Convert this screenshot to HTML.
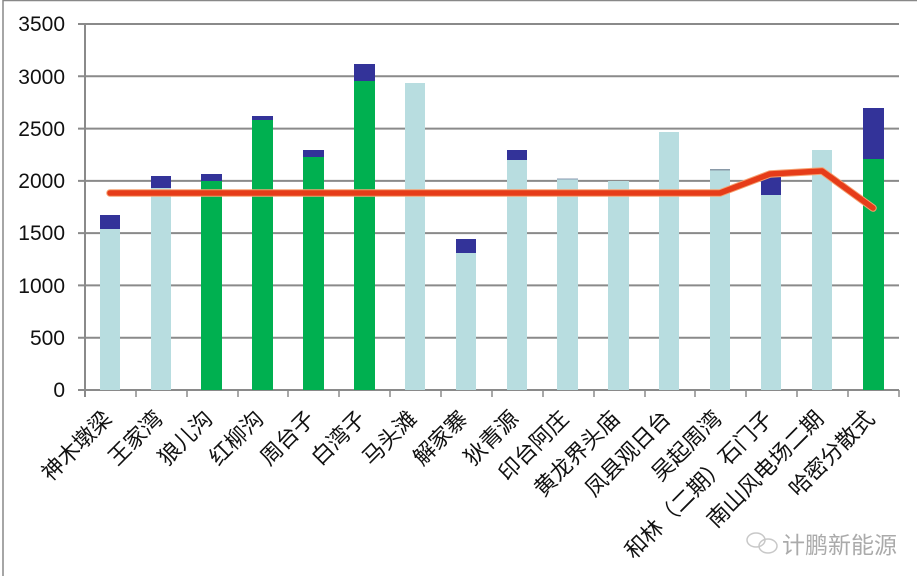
<!DOCTYPE html>
<html><head><meta charset="utf-8"><style>
html,body{margin:0;padding:0;background:#fff;}
svg{display:block;}
text{font-family:"Liberation Sans","Noto Sans CJK SC",sans-serif;}
</style></head><body>
<svg width="917" height="576" viewBox="0 0 917 576" xmlns="http://www.w3.org/2000/svg">
<rect width="917" height="576" fill="#fff"/>
<line x1="3" y1="0.5" x2="917" y2="0.5" stroke="#888" stroke-width="1.5"/>
<line x1="3" y1="0" x2="3" y2="576" stroke="#888" stroke-width="1.5"/>
<g stroke="#8a8a8a" stroke-width="2">
<line x1="78" y1="24" x2="899" y2="24"/>
<line x1="78" y1="76.3" x2="899" y2="76.3"/>
<line x1="78" y1="128.6" x2="899" y2="128.6"/>
<line x1="78" y1="180.9" x2="899" y2="180.9"/>
<line x1="78" y1="233.1" x2="899" y2="233.1"/>
<line x1="78" y1="285.4" x2="899" y2="285.4"/>
<line x1="78" y1="337.7" x2="899" y2="337.7"/>
<line x1="78" y1="390" x2="899" y2="390"/>
<line x1="85" y1="24" x2="85" y2="397"/>
</g>
<g stroke="#8a8a8a" stroke-width="1.5">
<line x1="136" y1="390" x2="136" y2="397"/><line x1="187" y1="390" x2="187" y2="397"/>
<line x1="238" y1="390" x2="238" y2="397"/><line x1="288" y1="390" x2="288" y2="397"/>
<line x1="339" y1="390" x2="339" y2="397"/><line x1="390" y1="390" x2="390" y2="397"/>
<line x1="441" y1="390" x2="441" y2="397"/><line x1="492" y1="390" x2="492" y2="397"/>
<line x1="543" y1="390" x2="543" y2="397"/><line x1="594" y1="390" x2="594" y2="397"/>
<line x1="645" y1="390" x2="645" y2="397"/><line x1="695" y1="390" x2="695" y2="397"/>
<line x1="746" y1="390" x2="746" y2="397"/><line x1="797" y1="390" x2="797" y2="397"/>
<line x1="848" y1="390" x2="848" y2="397"/><line x1="899" y1="390" x2="899" y2="397"/>
</g>
<g font-size="21" fill="#111" text-anchor="end">
<text x="65" y="31">3500</text><text x="65" y="84">3000</text><text x="65" y="136">2500</text>
<text x="65" y="188">2000</text><text x="65" y="240">1500</text><text x="65" y="293">1000</text>
<text x="65" y="345">500</text><text x="65" y="397">0</text>
</g>
<g>
<rect x="100" y="229" width="20" height="161" fill="#b8dde0"/><rect x="100" y="215" width="20" height="14" fill="#333399"/>
<rect x="151" y="188" width="20" height="202" fill="#b8dde0"/><rect x="151" y="176" width="20" height="12" fill="#333399"/>
<rect x="201" y="181" width="21" height="209" fill="#00b050"/><rect x="201" y="174" width="21" height="7" fill="#333399"/>
<rect x="252" y="120" width="21" height="270" fill="#00b050"/><rect x="252" y="116" width="21" height="4" fill="#333399"/>
<rect x="303" y="157" width="21" height="233" fill="#00b050"/><rect x="303" y="150" width="21" height="7" fill="#333399"/>
<rect x="354" y="81" width="21" height="309" fill="#00b050"/><rect x="354" y="64" width="21" height="17" fill="#333399"/>
<rect x="405" y="83" width="20" height="307" fill="#b8dde0"/>
<rect x="456" y="253" width="20" height="137" fill="#b8dde0"/><rect x="456" y="239" width="20" height="14" fill="#333399"/>
<rect x="507" y="160" width="20" height="230" fill="#b8dde0"/><rect x="507" y="150" width="20" height="10" fill="#333399"/>
<rect x="557" y="179" width="21" height="211" fill="#b8dde0"/><rect x="557" y="178.5" width="21" height="1" fill="#8a9ab0"/>
<rect x="608" y="181" width="21" height="209" fill="#b8dde0"/>
<rect x="659" y="132" width="20" height="258" fill="#b8dde0"/>
<rect x="710" y="169" width="20" height="221" fill="#b8dde0"/><rect x="710" y="169" width="20" height="1.5" fill="#8a9aa8"/>
<rect x="761" y="195" width="20" height="195" fill="#b8dde0"/><rect x="761" y="177" width="20" height="18" fill="#333399"/>
<rect x="812" y="150" width="20" height="240" fill="#b8dde0"/>
<rect x="863" y="159" width="21" height="231" fill="#00b050"/><rect x="863" y="108" width="21" height="51" fill="#333399"/>
</g>
<polyline points="110,193 720,193 770,174 822,171 873,208" fill="none" stroke="#f5a070" stroke-width="7.5" stroke-linejoin="round" stroke-linecap="round"/>
<polyline points="110,193 720,193 770,174 822,171 873,208" fill="none" stroke="#e63c19" stroke-width="5.5" stroke-linejoin="round" stroke-linecap="round"/>
<g font-size="22" fill="#111" text-anchor="end">
<text transform="translate(113,420) rotate(-45)">神木墩梁</text>
<text transform="translate(164,420) rotate(-45)">王家湾</text>
<text transform="translate(214,420) rotate(-45)">狼儿沟</text>
<text transform="translate(265,420) rotate(-45)">红柳沟</text>
<text transform="translate(316,420) rotate(-45)">周台子</text>
<text transform="translate(367,420) rotate(-45)">白湾子</text>
<text transform="translate(418,420) rotate(-45)">马头滩</text>
<text transform="translate(469,420) rotate(-45)">解家寨</text>
<text transform="translate(520,420) rotate(-45)">狄青源</text>
<text transform="translate(570,420) rotate(-45)">印台阿庄</text>
<text transform="translate(621,420) rotate(-45)">黄龙界头庙</text>
<text transform="translate(672,420) rotate(-45)">凤县观日台</text>
<text transform="translate(723,420) rotate(-45)">吴起周湾</text>
<text transform="translate(774,420) rotate(-45)">和林（二期）石门子</text>
<text transform="translate(825,420) rotate(-45)">南山风电场二期</text>
<text transform="translate(876,420) rotate(-45)">哈密分散式</text>
</g>
<g fill="none" stroke="#c8c8c8" stroke-width="1.5">
<ellipse cx="756" cy="540" rx="9" ry="7"/>
<ellipse cx="768" cy="546" rx="9" ry="7"/>
</g>
<text x="782" y="553" font-size="23" fill="#aaa">计鹏新能源</text>
</svg>
</body></html>
